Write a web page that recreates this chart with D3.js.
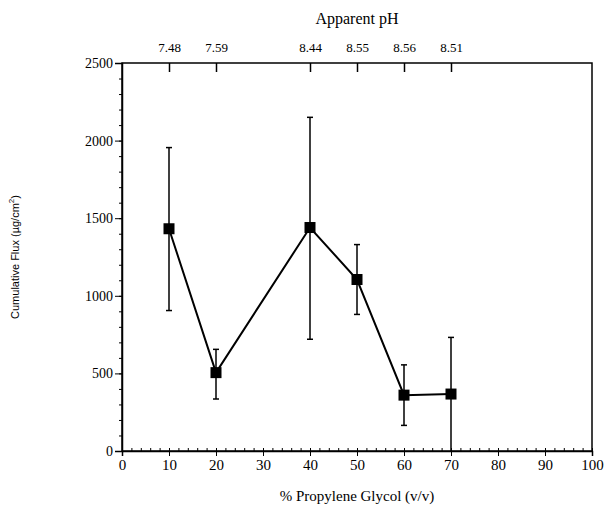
<!DOCTYPE html>
<html>
<head>
<meta charset="utf-8">
<script src="https://cdn.jsdelivr.net/npm/d3@7"></script>
<style>
  body { margin: 0; background: #fff; }
  svg { display: block; }
</style>
</head>
<body>
<svg width="604" height="508"></svg>
<script>
// data
let glycol = [10, 20, 40, 50, 60, 70];
let flux = [1432, 505, 1440, 1105, 360, 367];
let errHigh = [1955, 655, 2150, 1330, 555, 732];
let errLow = [905, 335, 720, 880, 165, 0];
let pH = ["7.48", "7.59", "8.44", "8.55", "8.56", "8.51"];

let xTicks = [0, 10, 20, 30, 40, 50, 60, 70, 80, 90, 100];
let yTicks = [0, 500, 1000, 1500, 2000, 2500];

let svg = d3.select("svg"),
    margin = {top: 63, right: 12, bottom: 57, left: 122},
    width = +svg.attr("width") - margin.left - margin.right,
    height = +svg.attr("height") - margin.top - margin.bottom,
    g = svg.append("g").attr("transform", "translate(" + margin.left + "," + margin.top + ")");

let x = d3.scaleLinear().domain([0, 100]).range([0, width]);
let y = d3.scaleLinear().domain([0, 2500]).range([height, 0]);

let serif = "'Liberation Serif', serif",
    sans = "'Liberation Sans', Arial, sans-serif";

// frame
g.append("rect")
    .attr("width", width)
    .attr("height", height)
    .attr("fill", "none")
    .attr("stroke", "#000")
    .attr("stroke-width", 1.5);

// bottom axis: minor ticks inside, major outside
g.append("g")
    .attr("transform", "translate(0," + height + ")")
    .call(d3.axisBottom(x).tickValues(d3.range(0, 101, 2)).tickSize(-3).tickFormat(""))
    .call(a => a.select(".domain").remove());

g.append("g")
    .attr("transform", "translate(0," + height + ")")
    .call(d3.axisBottom(x).tickValues(xTicks).tickSize(5).tickPadding(3))
    .call(a => a.select(".domain").attr("stroke-width", 1.5))
    .call(a => a.selectAll("text").attr("font-family", serif).attr("font-size", 15));

// left axis: minor and major ticks outside
g.append("g")
    .call(d3.axisLeft(y).tickValues(d3.range(0, 2501, 100)).tickSize(3).tickFormat(""))
    .call(a => a.select(".domain").remove());

g.append("g")
    .call(d3.axisLeft(y).tickValues(yTicks).tickSize(7).tickPadding(2).tickFormat(d3.format("d")))
    .call(a => a.select(".domain").attr("stroke-width", 1.5))
    .call(a => a.selectAll("text").attr("font-family", serif).attr("font-size", 14));

// top axis with apparent pH labels
g.append("g")
    .call(d3.axisTop(x).tickValues(glycol).tickSize(-9).tickFormat((d, i) => pH[i]).tickPadding(11))
    .call(a => a.select(".domain").remove())
    .call(a => a.selectAll("line").attr("stroke-width", 1.5))
    .call(a => a.selectAll("text").attr("font-family", serif).attr("font-size", 13));

// error bars
let bars = g.append("g")
    .selectAll("g")
    .data(glycol)
    .enter().append("g");

bars.append("line")
    .attr("x1", d => x(d))
    .attr("x2", d => x(d))
    .attr("y1", (d, i) => y(errHigh[i]))
    .attr("y2", (d, i) => y(errLow[i]))
    .attr("stroke", "#000")
    .attr("stroke-width", 1.5);

bars.selectAll("line.cap")
    .data((d, i) => [[d, errHigh[i]], [d, errLow[i]]].filter(c => c[1] > 0))
    .enter().append("line")
    .attr("class", "cap")
    .attr("x1", c => x(c[0]) - 3)
    .attr("x2", c => x(c[0]) + 3)
    .attr("y1", c => y(c[1]))
    .attr("y2", c => y(c[1]))
    .attr("stroke", "#000")
    .attr("stroke-width", 1.5);

// connecting line
let pts = glycol.map((d, i) => [d, flux[i]]);
g.append("path")
    .datum(pts)
    .attr("fill", "none")
    .attr("stroke", "#000")
    .attr("stroke-width", 2)
    .attr("d", d3.line().x(d => x(d[0])).y(d => y(d[1])));

g.append("g")
    .selectAll("rect")
    .data(pts)
    .enter().append("rect")
    .attr("x", d => x(d[0]) - 5.5)
    .attr("y", d => y(d[1]) - 5.5)
    .attr("width", 11)
    .attr("height", 11)
    .attr("fill", "#000");

// titles
svg.append("text")
    .attr("x", margin.left + x(50))
    .attr("y", 24)
    .attr("text-anchor", "middle")
    .attr("font-family", serif)
    .attr("font-size", 16)
    .text("Apparent pH");

svg.append("text")
    .attr("x", margin.left + x(50))
    .attr("y", 501)
    .attr("text-anchor", "middle")
    .attr("font-family", serif)
    .attr("font-size", 15)
    .text("% Propylene Glycol (v/v)");

let ylab = svg.append("text")
    .attr("transform", "translate(19," + (margin.top + y(1250)) + ") rotate(-90)")
    .attr("text-anchor", "middle")
    .attr("font-family", sans)
    .attr("font-size", 11);
ylab.append("tspan").text("Cumulative Flux (\u00b5g/cm");
ylab.append("tspan").attr("dy", -5).attr("font-size", 8).text("2");
ylab.append("tspan").attr("dy", 5).text(")");
</script>
</body>
</html>
